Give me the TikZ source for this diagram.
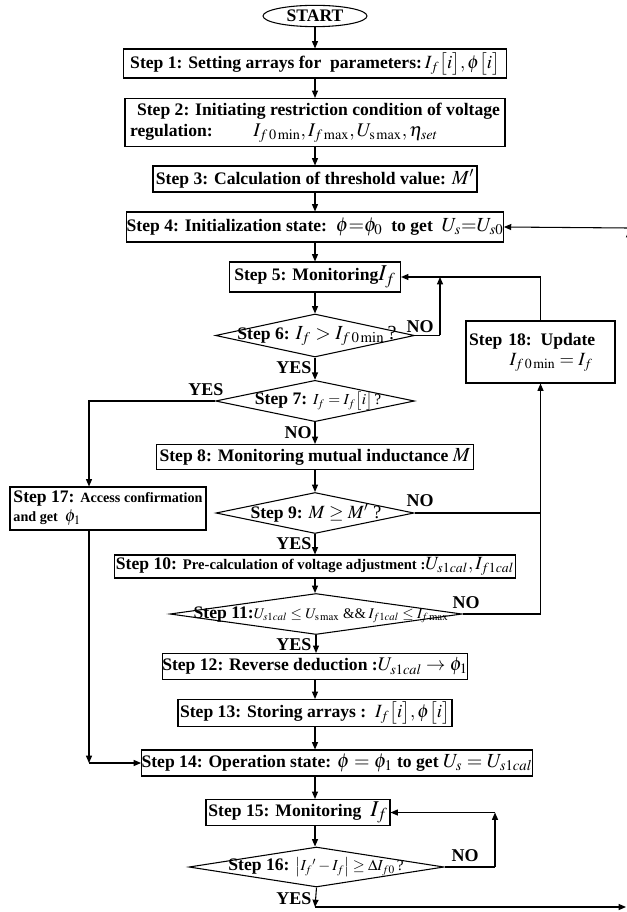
\documentclass[tikz,border=0pt]{standalone}
\usepackage{mathptmx}
\usepackage{fontspec}
\setmainfont{Liberation Serif}
\usetikzlibrary{arrows.meta,shapes.geometric}
\newcommand{\fs}[1]{\fontsize{#1}{#1}\selectfont}
\begin{document}
\begin{tikzpicture}[x=0.75pt,y=-0.75pt,
  font=\bfseries\fs{13.2},
  box/.style={draw, line width=0.8pt, rectangle, inner sep=0pt, align=center},
  dia/.style={draw, line width=0.8pt, diamond, inner sep=0pt},
  txt/.style={inner sep=0pt, align=center},
  ln/.style={line width=0.8pt},
  arr/.style={ln, -{Triangle[length=5.5pt,width=4.5pt]}},
  lbl/.style={font=\bfseries\fs{13.5}, inner sep=0pt}]
\useasboundingbox (0,0) rectangle (627,912);
\clip (0,0) rectangle (627,912);

% nodes
\node[draw, line width=0.8pt, ellipse, inner sep=0pt, minimum width=78pt, minimum height=16pt] (start) at (315,16) {START};
\node[box, minimum width=287.25pt, minimum height=21.75pt] (s1) at (315,63.5)
  {Step 1: Setting arrays for\ \ parameters:\,{\fs{14}$I_f\big[i\big],\phi\big[i\big]$}};
\node[box, minimum width=285pt, minimum height=36pt, align=left] (s2) at (315,122.5)
  {\hspace*{0.4em}Step 2: Initiating restriction condition of voltage\\[2.5pt]regulation:\hspace{2.3em}{\fs{14.5}$I_{f\,0\min},I_{f\max},U_{\mathrm{s}\max},\eta_{set}$}};
\node[box, minimum width=243pt, minimum height=19.5pt] (s3) at (315,179)
  {Step 3: Calculation of threshold value: {\fs{15}$M'$}};
\node[box, minimum width=279.75pt, minimum height=22.5pt] (s4) at (315,227)
  {Step 4: Initialization state:\ \ {\fs{15}$\phi{=}\phi_0$}\ \ to get\ \ {\fs{15}$U_s{=}U_{s0}$}};
\node[box, minimum width=128.25pt, minimum height=22.5pt] (s5) at (315,277)
  {Step 5: Monitoring{\fs{17}$I_f$}};
\node[dia, minimum width=149.25pt, minimum height=32.25pt] (s6) at (315,335.5) {};
\node[txt] (t6) at (317,336) {Step 6: {\fs{15}$I_f>I_{f\,0\min}$\mdseries\,?}};
\node[dia, minimum width=149.25pt, minimum height=31pt] (s7) at (315,401) {};
\node[txt] (t7) at (318,401) {Step 7: {\fs{11.5}$I_f=I_f\big[i\big]\,$\mdseries?}};
\node[box, minimum width=237.75pt, minimum height=18.75pt] (s8) at (315,457)
  {Step 8: Monitoring mutual inductance {\fs{15}$M$}};
\node[dia, minimum width=148.5pt, minimum height=30.75pt] (s9) at (315,513) {};
\node[txt] (t9) at (316,513) {Step 9: {\fs{14}$M\ge M'$ \mdseries?}};
\node[box, minimum width=147pt, minimum height=32.25pt, align=left] (s17) at (108,508.5)
  {Step 17: {\fs{10.6}Access confirmation}\\[1pt]{\fs{10.6}and get\ \ }{\fs{13}$\phi_1$}};
\node[box, minimum width=300.75pt, minimum height=17.25pt] (s10) at (315,566.5)
  {Step 10: {\fs{11}Pre-calculation of voltage adjustment :}{\fs{14}$U_{s1cal},I_{f1cal}$}};
\node[dia, minimum width=219pt, minimum height=30.75pt] (s11) at (316,614) {};
\node[txt] (t11) at (321,615) {Step 11:{\fs{11}\mdseries$U_{s1cal}\le U_{\mathrm{s}\max}$ \&\&\,$I_{f1cal}\le I_{f\max}$}};
\node[box, minimum width=223.5pt, minimum height=19.5pt] (s12) at (315,666.5)
  {Step 12: Reverse deduction :{\fs{14.5}$U_{s1cal}\to\phi_1$}};
\node[box, minimum width=205.5pt, minimum height=20.25pt] (s13) at (315,713)
  {Step 13: Storing arrays :\ \ {\fs{14}$I_f\big[i\big],\phi\big[i\big]$}};
\node[box, minimum width=280.5pt, minimum height=19.5pt] (s14) at (337,763)
  {Step 14: Operation state: {\fs{15}$\phi=\phi_1$}\ to get {\fs{15}$U_s=U_{s1cal}$}};
\node[box, minimum width=138pt, minimum height=19.5pt] (s15) at (298,812.5)
  {Step 15: Monitoring\ \ {\fs{17}$I_f$}};
\node[dia, minimum width=191.25pt, minimum height=30pt] (s16) at (316.5,867) {};
\node[txt] (t16) at (316,867) {Step 16: {\fs{11.5}$\left|I_f{}'-I_f\right|\ge\Delta I_{f0}\,$\mdseries?}};
\node[box, minimum width=111.75pt, minimum height=46.5pt, text width=107pt, align=left] (s18) at (540.5,352)
  {Step 18: Update\\[2pt]\hspace*{2.3em}{\fs{14}$I_{f\,0\min}=I_f$}};

% labels
\node[lbl] (n6) at (420,327) {NO};
\node[lbl] (y6) at (294,368) {YES};
\node[lbl] (y7) at (206,390) {YES};
\node[lbl] (n7) at (298,433) {NO};
\node[lbl] (n9) at (420,501) {NO};
\node[lbl] (y9) at (294,544) {YES};
\node[lbl] (n11) at (466,603) {NO};
\node[lbl] (y11) at (294,645) {YES};
\node[lbl] (n16) at (465,856) {NO};
\node[lbl] (y16) at (294,899) {YES};

% coordinates
\coordinate (c6) at (440,335.5);
\coordinate (c7) at (89,401);
\coordinate (c16) at (495,867);
\coordinate (yend) at (315,907);
\coordinate (outR) at (626,907);
\coordinate (inR) at (628,228);
\coordinate (cutA) at (629,244);
\coordinate (cutB) at (629,230);

% main column
\draw[arr] (start.south) -- (start.south |- s1.north);
\draw[arr] (s1.south) -- (s1.south |- s2.north);
\draw[arr] (s2.south) -- (s2.south |- s3.north);
\draw[arr] (s3.south) -- (s3.south |- s4.north);
\draw[arr] (s4.south) -- (s4.south |- s5.north);
\draw[arr] (s5.south) -- (s5.south |- s6.north);
\draw[arr] (s6.south) -- (s6.south |- s7.north);
\draw[arr] (s7.south) -- (s7.south |- s8.north);
\draw[arr] (s8.south) -- (s8.south |- s9.north);
\draw[arr] (s9.south) -- (s9.south |- s10.north);
\draw[arr] (s10.south) -- (s10.south |- s11.north);
\draw[arr] (s11.south) -- (s11.south |- s12.north);
\draw[arr] (s12.south) -- (s12.south |- s13.north);
\draw[arr] (s13.south) -- (s13.south |- s14.north);
\draw[arr] (s13.south |- s14.south) -- (s13.south |- s15.north);
\draw[arr] (s13.south |- s15.south) -- (s13.south |- s16.north);

% step 6 NO loop
\draw[ln] (s6.east) -- (c6);
\draw[arr] (c6) -- (c6 |- s5.east);
\draw[arr] (s18.north) |- (s5.east);
% step 9 / 11 NO
\draw[ln] (s9.east) -- (s9.east -| s18.south);
\draw[arr] (s11.east) -| (s18.south);
% step 7 YES
\draw[arr] (s7.west) -- (c7) -- (c7 |- s17.north);
\draw[arr] (c7 |- s17.south) -- (c7 |- s14.west);
\draw[arr] (c7 |- s14.west) -- (s14.west);
% step 16 loops
\draw[ln] (s16.east) -- (c16);
\draw[arr] (c16) -- (c16 |- s15.east);
\draw[arr] (c16 |- s15.east) -- (s15.east);
\draw[arr] (s16.south) -- (yend);
\draw[arr] (yend) -- (outR);
% back into step 4
\draw[arr] (inR) -- (s4.east);
\draw[arr] (cutA) -- (cutB);
\end{tikzpicture}
\end{document}
